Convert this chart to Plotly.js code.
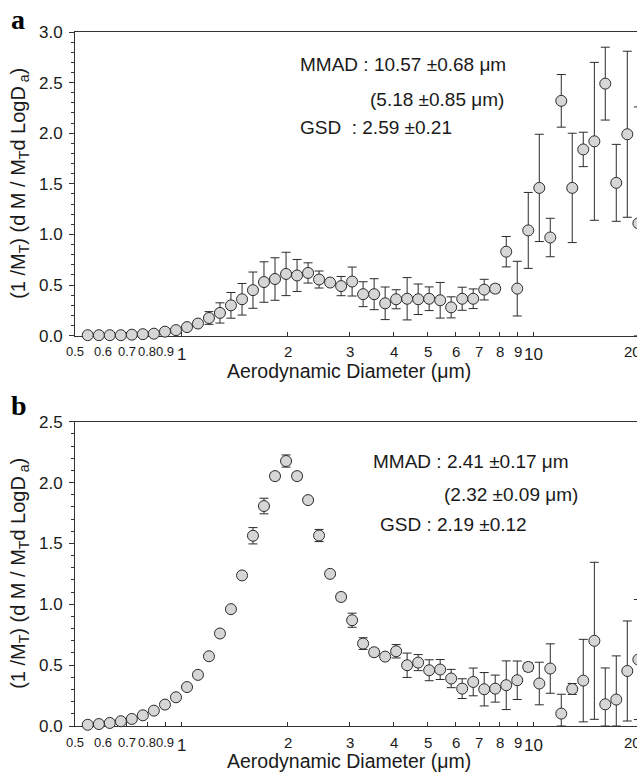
<!DOCTYPE html>
<html><head><meta charset="utf-8">
<script src="https://cdn.plot.ly/plotly-3.0.1.min.js"></script>
<style>html,body{margin:0;padding:0;overflow:hidden;background:#fff}#chart{width:700px;height:773px}</style>
</head><body><div id="chart"></div>
<script>
// APS channel midpoints (aerodynamic diameter, µm)
const diameters = [0.542,0.583,0.626,0.673,0.723,0.777,0.835,0.898,0.965,1.037,1.114,1.197,1.286,1.382,1.486,1.596,1.715,1.843,1.981,2.129,2.288,2.458,2.642,2.839,3.051,3.278,3.523,3.786,4.068,4.371,4.698,5.048,5.425,5.829,6.264,6.732,7.234,7.774,8.354,8.977,9.647,10.37,11.14,11.97,12.86,13.82,14.86,15.96,17.15,18.43,19.81];
// panel a
const fractionA = [0.005,0.005,0.005,0.005,0.01,0.015,0.02,0.04,0.055,0.085,0.12,0.175,0.225,0.30,0.36,0.45,0.53,0.56,0.61,0.595,0.62,0.555,0.525,0.49,0.535,0.41,0.41,0.32,0.36,0.365,0.36,0.365,0.35,0.28,0.365,0.365,0.455,0.465,0.83,0.465,1.04,1.46,0.97,2.32,1.46,1.84,1.92,2.49,1.51,1.99,1.11];
const errorA = [0,0,0,0,0,0,0,0,0,0.01,0.02,0.063,0.10,0.127,0.156,0.179,0.20,0.21,0.214,0.158,0.10,0.084,0.02,0.095,0.143,0.123,0.153,0.161,0.094,0.209,0.151,0.117,0.176,0.104,0.114,0.097,0.102,0.04,0.15,0.27,0.375,0.53,0.19,0.26,0.54,0.17,0.78,0.36,0.38,0.82,1.15];
// panel b
const fractionB = [0.01,0.016,0.025,0.039,0.058,0.088,0.126,0.176,0.236,0.32,0.42,0.573,0.76,0.96,1.237,1.563,1.807,2.053,2.177,2.053,1.856,1.565,1.25,1.06,0.869,0.677,0.606,0.57,0.614,0.499,0.521,0.458,0.464,0.39,0.307,0.362,0.302,0.307,0.335,0.376,0.485,0.349,0.472,0.102,0.304,0.373,0.70,0.178,0.217,0.452,0.546];
const errorB = [0,0,0,0,0,0,0,0,0,0,0,0,0,0,0,0.067,0.064,0.03,0.05,0.03,0.02,0.05,0.02,0.03,0.058,0.048,0.03,0.02,0.055,0.10,0.066,0.086,0.082,0.075,0.081,0.114,0.137,0.111,0.20,0.158,0.034,0.175,0.203,0.159,0.045,0.339,0.645,0.299,0.359,0.411,0.493];

const tickValues = [0.5,0.6,0.7,0.8,0.9,1,2,3,4,5,6,7,8,9,10,20];
const tickLabels = ['0.5','0.6','0.7','0.8','0.9','1','2','3','4','5','6','7','8','9','10','20'];
const statsA = ['MMAD : 10.57 ±0.68 μm','(5.18 ±0.85 μm)','GSD  : 2.59 ±0.21'];
const statsB = ['MMAD : 2.41 ±0.17 μm','(2.32 ±0.09 μm)','GSD : 2.19 ±0.12'];
const panelLabels = ['a','b'];
const xTitle = 'Aerodynamic Diameter (μm)';
const yTitle = '(1 /M<sub>T</sub>) (d M / M<sub>T</sub>d LogD<sub> a</sub>)';

// ---- layout geometry ----
const W = 700, H = 773, L = 75, R = 0, T = 32, B = 47;
const PW = W - L - R, PH = H - T - B;
const pxX = px => (px - L) / PW;
const pxY = py => (H - B - py) / PH;
const decadePx = 352.3;
const x0 = Math.log10(0.5) - (L - 74.6) / decadePx;
const xRange = [x0, x0 + PW / decadePx];

const SANS = '"Liberation Sans", Arial, sans-serif';
const NARROW = '"Liberation Sans Narrow", "Liberation Sans", Arial, sans-serif';
const INK = '#1a1a1a';

function trace(y, err, xa, ya) {
  return {
    x: diameters, y: y, xaxis: xa, yaxis: ya, type: 'scatter', mode: 'markers',
    cliponaxis: false,
    marker: {size: 11, color: '#d6d6d6', line: {color: '#2b2b2b', width: 1}},
    error_y: {type: 'data', symmetric: false, array: err,
              arrayminus: err.map((e, i) => Math.min(e, y[i])),
              color: '#2b2b2b', thickness: 1, width: 4.5},
    hoverinfo: 'x+y'
  };
}

function xAxis(anchor) {
  return {
    type: 'log', range: xRange, anchor: anchor,
    showgrid: false, zeroline: false, showline: true, mirror: true,
    linecolor: '#333', linewidth: 1,
    tickmode: 'array', tickvals: tickValues, ticks: 'inside', ticklen: 4,
    tickcolor: '#333', showticklabels: false, layer: 'below traces'
  };
}
function yAxis(domain, maxv, anchor) {
  return {
    domain: domain, range: [0, maxv], anchor: anchor,
    showgrid: false, zeroline: false, showline: true, mirror: false,
    linecolor: '#333', linewidth: 1,
    dtick: 0.5, tickformat: '.1f', ticks: 'outside', ticklen: 5, tickcolor: '#333',
    minor: {dtick: 0.1, ticks: 'outside', ticklen: 3, tickcolor: '#333'},
    tickfont: {family: SANS, size: 17, color: INK}, ticklabelstandoff: 3,
    layer: 'below traces'
  };
}

const domA = [pxY(335.7), 1];
const domB = [0, pxY(421.7)];

const annotations = [];
// tick labels
[['x', domA[0]], ['x2', domB[0]]].forEach(([xr, ybase]) => {
  tickValues.forEach((v, i) => {
    const big = Math.log10(v) % 1 === 0;
    const small = v < 1;
    annotations.push({
      xref: xr, yref: 'paper', x: Math.log10(v), y: ybase,
      text: tickLabels[i], showarrow: false, xanchor: 'center', yanchor: 'middle',
      yshift: big ? -19 : -16, xshift: v === 20 ? -7 : 0,
      font: {family: small ? NARROW : SANS, size: big ? 17 : (small ? 13 : 15), color: INK}
    });
  });
});
// axis titles
[[domA, 335.7], [domB, 725.7]].forEach(([dom, axisPx]) => {
  annotations.push({xref: 'paper', yref: 'paper', x: pxX(348.5), y: pxY(axisPx + 35.5),
    text: xTitle, showarrow: false, xanchor: 'center', yanchor: 'middle',
    font: {family: SANS, size: 19.5, color: INK}});
  annotations.push({xref: 'paper', yref: 'paper', x: pxX(20), y: (dom[0] + dom[1]) / 2,
    text: yTitle, showarrow: false, textangle: -90, xanchor: 'center', yanchor: 'middle',
    font: {family: SANS, size: 20, color: INK}});
});
// panel letters
[[18, 19], [19, 405]].forEach(([cx, cy], i) => {
  annotations.push({xref: 'paper', yref: 'paper', x: pxX(cx), y: pxY(cy),
    text: '<b>' + panelLabels[i] + '</b>', showarrow: false, xanchor: 'center', yanchor: 'middle',
    font: {family: '"Liberation Serif", "Times New Roman", serif', size: 28, color: '#000'}});
});
// statistics text
const statPosA = [[298, 65], [368, 99], [298, 128]];
const statPosB = [[371, 461], [442, 494], [378, 524]];
[[statsA, statPosA], [statsB, statPosB]].forEach(([txts, pos]) => {
  txts.forEach((t, i) => {
    annotations.push({xref: 'paper', yref: 'paper', x: pxX(pos[i][0]), y: pxY(pos[i][1]),
      text: t, showarrow: false, xanchor: 'left', yanchor: 'middle',
      font: {family: SANS, size: 19, color: INK}});
  });
});

const layout = {
  width: W, height: H,
  margin: {l: L, r: R, t: T, b: B, pad: 0},
  paper_bgcolor: '#fff', plot_bgcolor: '#fff',
  showlegend: false,
  xaxis: xAxis('y'), yaxis: yAxis(domA, 3, 'x'),
  xaxis2: xAxis('y2'), yaxis2: yAxis(domB, 2.5, 'x2'),
  annotations: annotations
};

Plotly.newPlot('chart', [trace(fractionA, errorA, 'x', 'y'), trace(fractionB, errorB, 'x2', 'y2')],
  layout, {staticPlot: true, displayModeBar: false});
</script></body></html>
